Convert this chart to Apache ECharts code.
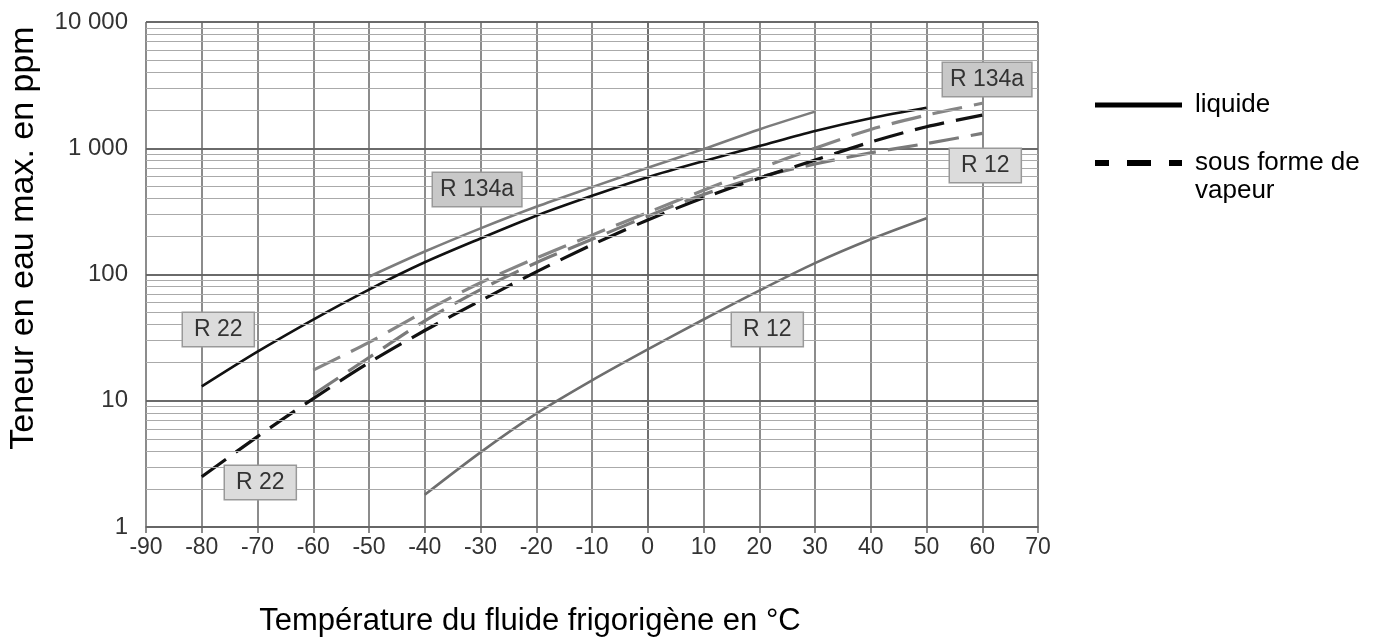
<!DOCTYPE html>
<html>
<head>
<meta charset="utf-8">
<script src="https://cdn.jsdelivr.net/npm/echarts@6/dist/echarts.min.js"></script>
<style>
html,body{margin:0;padding:0;background:#fff;}
#chart{width:1379px;height:639px;}
</style>
</head>
<body>
<div id="chart"></div>
<script>
// ---- data ----
const temps = [-80, -70, -60, -50, -40, -30, -20, -10, 0, 10, 20, 30, 40, 50, 60];
const r22Liquid   = [13, 24.5, 44, 76, 125, 193, 292, 420, 590, 790, 1040, 1370, 1730, 2090, null];
const r134aLiquid = [null, null, null, 96, 152, 232, 344, 492, 700, 985, 1410, 1950, null, null, null];
const r12Liquid   = [null, null, null, null, 1.8, 3.9, 7.9, 14.5, 25.5, 44, 74.5, 123, 190, 279, null];
const r22Vapor    = [2.5, 5.2, 10.4, 20, 36, 62, 105, 172, 270, 405, 580, 805, 1120, 1480, 1830];
const r134aVapor  = [null, null, 17.5, 29, 51, 86, 135, 205, 310, 465, 690, 1000, 1410, 1830, 2270];
const r12Vapor    = [null, null, 11.2, 22, 43, 76, 124, 190, 290, 430, 590, 750, 920, 1090, 1310];
const xTicks = { min: -90, max: 70, step: 10 };
const yDecades = [1, 10, 100, 1000, 10000];
const minorMultipliers = [2, 3, 4, 5, 6, 7, 8, 9];

const labelFont = 'Liberation Sans, Arial, sans-serif';

function pairs(vals) {
  const out = [];
  temps.forEach((t, i) => { if (vals[i] != null) out.push([t, vals[i]]); });
  return out;
}
const minorGrid = [];
yDecades.slice(0, -1).forEach(d => minorMultipliers.forEach(m => minorGrid.push({ yAxis: d * m })));

function lineSeries(name, vals, color, width, dashed) {
  return {
    name: name, type: 'line', data: pairs(vals), smooth: 0.3,
    symbol: 'none', silent: true, z: dashed ? 3 : 4,
    lineStyle: { color: color, width: width, type: dashed ? [30, 12] : 'solid', cap: 'butt' }
  };
}

const chart = echarts.init(document.getElementById('chart'));
const option = {
  backgroundColor: '#fff',
  animation: false,
  grid: { left: 146, right: 341, top: 22, bottom: 112 },
  xAxis: {
    type: 'value', min: xTicks.min, max: xTicks.max, interval: xTicks.step,
    axisLine: { show: true, lineStyle: { color: '#666', width: 1.5 } },
    axisTick: { show: true, length: 6, lineStyle: { color: '#666', width: 1.5 } },
    axisLabel: { fontSize: 23, fontFamily: labelFont, color: '#333', margin: 9 },
    splitLine: { show: true, lineStyle: { color: '#666', width: 1.5 } }
  },
  yAxis: {
    type: 'log', logBase: 10, min: 1, max: 10000,
    axisLine: { show: true, lineStyle: { color: '#666', width: 1.5 } },
    axisTick: { show: true, length: 6, lineStyle: { color: '#666', width: 1.5 } },
    axisLabel: {
      fontSize: 24, fontFamily: labelFont, color: '#333', margin: 18,
      formatter: v => String(Math.round(v)).replace(/\B(?=(\d{3})+(?!\d))/g, ' ')
    },
    splitLine: { show: true, lineStyle: { color: '#6a6a6a', width: 2 } }
  },
  series: [
    {
      name: 'grid', type: 'line', data: [], z: 1, silent: true,
      markLine: {
        silent: true, symbol: 'none', label: { show: false },
        lineStyle: { color: '#aaa', width: 1.2, type: 'solid' },
        emphasis: { disabled: true },
        data: minorGrid
      }
    },
    lineSeries('R 134a liquide', r134aLiquid, '#7c7c7c', 2.6, false),
    lineSeries('R 12 liquide', r12Liquid, '#6e6e6e', 2.6, false),
    lineSeries('R 22 liquide', r22Liquid, '#111', 2.6, false),
    lineSeries('R 134a vapeur', r134aVapor, '#858585', 3.2, true),
    lineSeries('R 12 vapeur', r12Vapor, '#7a7a7a', 3.2, true),
    lineSeries('R 22 vapeur', r22Vapor, '#111', 3.2, true)
  ],
  graphic: [
    // axis titles
    { type: 'text', x: 24, y: 238, rotation: Math.PI / 2,
      style: { text: 'Teneur en eau max. en ppm', font: '34px ' + labelFont, fill: '#000', align: 'center', verticalAlign: 'middle' } },
    { type: 'text', x: 530, y: 621,
      style: { text: 'Température du fluide frigorigène en °C', font: '31px ' + labelFont, fill: '#000', align: 'center', verticalAlign: 'middle' } },
    // legend
    { type: 'line', shape: { x1: 1095, y1: 105, x2: 1182, y2: 105 }, style: { stroke: '#000', lineWidth: 5 } },
    { type: 'text', x: 1195, y: 105, style: { text: 'liquide', font: '26px ' + labelFont, fill: '#000', verticalAlign: 'middle' } },
    { type: 'line', shape: { x1: 1095, y1: 163, x2: 1182, y2: 163 }, style: { stroke: '#000', lineWidth: 6, lineDash: [14, 18, 24, 18] } },
    { type: 'text', x: 1195, y: 163, style: { text: 'sous forme de', font: '26px ' + labelFont, fill: '#000', verticalAlign: 'middle' } },
    { type: 'text', x: 1195, y: 191, style: { text: 'vapeur', font: '26px ' + labelFont, fill: '#000', verticalAlign: 'middle' } },
    // curve labels
    { type: 'text', x: 433, y: 173, z: 10, style: { text: 'R 134a', font: '23px ' + labelFont, fill: '#333', backgroundColor: '#c8c8c8', borderColor: '#999', borderWidth: 1.5, padding: [5, 7, 5, 7] } },
    { type: 'text', x: 943, y: 63, z: 10, style: { text: 'R 134a', font: '23px ' + labelFont, fill: '#333', backgroundColor: '#c8c8c8', borderColor: '#999', borderWidth: 1.5, padding: [5, 7, 5, 7] } },
    { type: 'text', x: 950, y: 149, z: 10, style: { text: 'R 12', font: '23px ' + labelFont, fill: '#333', backgroundColor: '#dcdcdc', borderColor: '#999', borderWidth: 1.5, padding: [5, 11, 5, 11] } },
    { type: 'text', x: 732, y: 313, z: 10, style: { text: 'R 12', font: '23px ' + labelFont, fill: '#333', backgroundColor: '#dcdcdc', borderColor: '#999', borderWidth: 1.5, padding: [5, 11, 5, 11] } },
    { type: 'text', x: 183, y: 313, z: 10, style: { text: 'R 22', font: '23px ' + labelFont, fill: '#333', backgroundColor: '#dcdcdc', borderColor: '#999', borderWidth: 1.5, padding: [5, 11, 5, 11] } },
    { type: 'text', x: 225, y: 466, z: 10, style: { text: 'R 22', font: '23px ' + labelFont, fill: '#333', backgroundColor: '#dcdcdc', borderColor: '#999', borderWidth: 1.5, padding: [5, 11, 5, 11] } }
  ]
};
chart.setOption(option);
</script>
</body>
</html>
